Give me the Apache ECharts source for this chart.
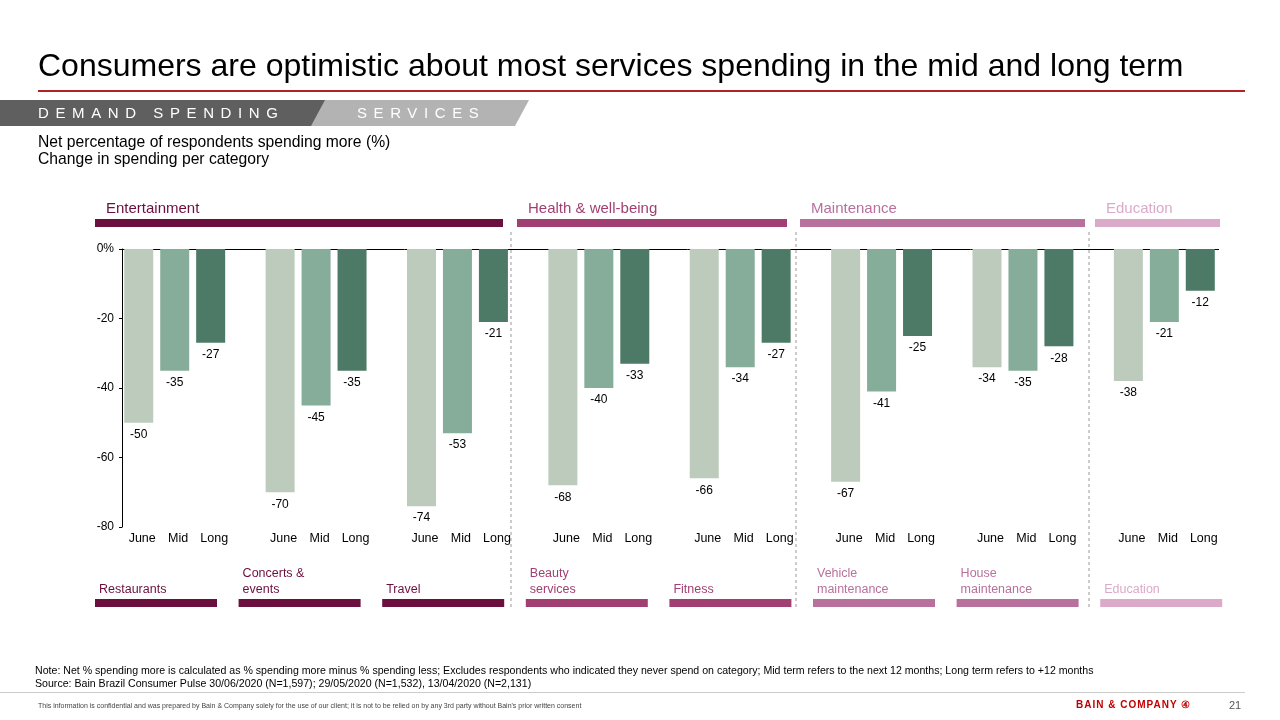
<!DOCTYPE html>
<html><head><meta charset="utf-8">
<script src="https://cdn.jsdelivr.net/npm/echarts@6/dist/echarts.min.js"></script>
<style>
body{margin:0;width:1280px;height:720px;position:relative;font-family:"Liberation Sans",Arial,sans-serif;background:#fff;overflow:hidden}
.abs{position:absolute}
#chart{position:absolute;left:0;top:0;width:1280px;height:720px}
</style></head><body>
<div id="chart"></div>
<div class="abs" style="left:38px;top:47px;font-size:32px;color:#000">Consumers are optimistic about most services spending in the mid and long term</div>
<div class="abs" style="left:38px;top:90px;width:1207px;height:2px;background:#b22222"></div>
<div class="abs" style="left:305px;top:100px;width:224px;height:26px;background:#b3b3b3;clip-path:polygon(14px 0,100% 0,calc(100% - 14px) 100%,0 100%)"></div>
<div class="abs" style="left:0;top:100px;width:325px;height:26px;background:#5f5f5f;clip-path:polygon(0 0,100% 0,calc(100% - 14px) 100%,0 100%)"></div>
<div class="abs" style="left:38px;top:104px;font-size:15px;letter-spacing:6.6px;color:#fff">DEMAND SPENDING</div>
<div class="abs" style="left:357px;top:104px;font-size:15px;letter-spacing:6.6px;color:#fff">SERVICES</div>
<div class="abs" style="left:38px;top:133px;font-size:15.7px;line-height:17px;color:#000">Net percentage of respondents spending more (%)<br>Change in spending per category</div>
<div class="abs" style="left:35px;top:664px;font-size:10.6px;line-height:13px;color:#000">Note: Net % spending more is calculated as % spending more minus % spending less; Excludes respondents who indicated they never spend on category; Mid term refers to the next 12 months; Long term refers to +12 months<br>Source: Bain Brazil Consumer Pulse 30/06/2020 (N=1,597); 29/05/2020 (N=1,532), 13/04/2020 (N=2,131)</div>
<div class="abs" style="left:0;top:692px;width:1245px;height:1px;background:#ccc"></div>
<div class="abs" style="left:38px;top:702px;font-size:7px;color:#444">This information is confidential and was prepared by Bain &amp; Company solely for the use of our client; it is not to be relied on by any 3rd party without Bain's prior written consent</div>
<div class="abs" style="left:1076px;top:699px;font-size:10px;font-weight:bold;letter-spacing:1px;color:#c00000">BAIN &amp; COMPANY ④</div>
<div class="abs" style="left:1229px;top:699px;font-size:11px;color:#555">21</div>
<script>
const categories = ['Restaurants', 'Concerts &\nevents', 'Travel', 'Beauty\nservices', 'Fitness', 'Vehicle\nmaintenance', 'House\nmaintenance', 'Education'];
const juneValues = [-50, -70, -74, -68, -66, -67, -34, -38];
const midValues = [-35, -45, -53, -40, -34, -41, -35, -21];
const longValues = [-27, -35, -21, -33, -27, -25, -28, -12];
const yTicks = [0, -20, -40, -60, -80];
const groupColors = ['#6b0f3f', '#6b0f3f', '#6b0f3f', '#a23f72', '#a23f72', '#b8709c', '#b8709c', '#dcaac9'];
const sections = [
  {name: 'Entertainment', x0: 95, x1: 503, color: '#6b0f3f'},
  {name: 'Health & well-being', x0: 517, x1: 787, color: '#a23f72'},
  {name: 'Maintenance', x0: 800, x1: 1085, color: '#b8709c'},
  {name: 'Education', x0: 1095, x1: 1220, color: '#dcaac9'}
];
const separators = [511, 796, 1089];

const chart = echarts.init(document.getElementById('chart'));
const font = '"Liberation Sans", Arial, sans-serif';
const label = {show: true, position: 'bottom', color: '#000', fontSize: 12, fontFamily: font, distance: 6};
function bar(name, data, color) {
  return {name, type: 'bar', xAxisIndex: 1, data, barWidth: 29, barGap: '24%', itemStyle: {color}, label};
}
const graphic = [];
sections.forEach(s => {
  graphic.push({type: 'rect', shape: {x: s.x0, y: 219, width: s.x1 - s.x0, height: 8}, style: {fill: s.color}});
  graphic.push({type: 'text', x: s.x0 + 11, y: 201, style: {text: s.name, fill: s.color, font: '15px ' + font}});
});
separators.forEach(x => graphic.push({type: 'line', shape: {x1: x, y1: 232, x2: x, y2: 610}, style: {stroke: '#999', lineDash: [3, 3], lineWidth: 1}}));
// cover the baseline overhang to the right of the last group
graphic.push({type: 'rect', shape: {x: 1219, y: 240, width: 40, height: 20}, style: {fill: '#fff'}, z: 100});
categories.forEach((c, i) => {
  const x = 95 + i * 143.6;
  graphic.push({type: 'rect', shape: {x: x, y: 599, width: 122, height: 8}, style: {fill: groupColors[i]}});
  graphic.push({type: 'text', x: x + 4, y: 598, style: {text: c, fill: groupColors[i], font: '12.5px ' + font, textVerticalAlign: 'bottom', lineHeight: 16}});
});

chart.setOption({
  animation: false,
  grid: {left: 122, right: 27, top: 249, bottom: 193},
  xAxis: [
    {type: 'category', data: categories, position: 'top', axisLine: {lineStyle: {color: '#000'}}, axisTick: {show: false}, axisLabel: {show: false}},
    {type: 'category', data: categories, position: 'bottom', axisLine: {show: false}, axisTick: {show: false},
      axisLabel: {interval: 0, margin: 5, formatter: () => '{a|June}{b|Mid}{c|Long}{d|}',
        rich: {a: {width: 36, align: 'center', fontSize: 12.5, fontFamily: font, color: '#000'},
               b: {width: 36, align: 'center', fontSize: 12.5, fontFamily: font, color: '#000'},
               c: {width: 36, align: 'center', fontSize: 12.5, fontFamily: font, color: '#000'},
               d: {width: 29}}}}
  ],
  yAxis: {type: 'value', min: yTicks[yTicks.length - 1], max: yTicks[0], interval: 20,
    axisLine: {show: true, lineStyle: {color: '#000'}}, axisTick: {show: true, length: 3},
    splitLine: {show: false},
    axisLabel: {formatter: v => v === 0 ? '0%' : String(v), color: '#000', fontSize: 12, fontFamily: font, margin: 8}},
  series: [
    bar('June', juneValues, '#bdcbbd'),
    bar('Mid', midValues, '#86ad99'),
    bar('Long', longValues, '#4c7a66'),
    {name: 'pad', type: 'bar', xAxisIndex: 1, data: categories.map(() => null), barWidth: 29, barGap: '24%'}
  ],
  graphic
});
</script>
</body></html>
